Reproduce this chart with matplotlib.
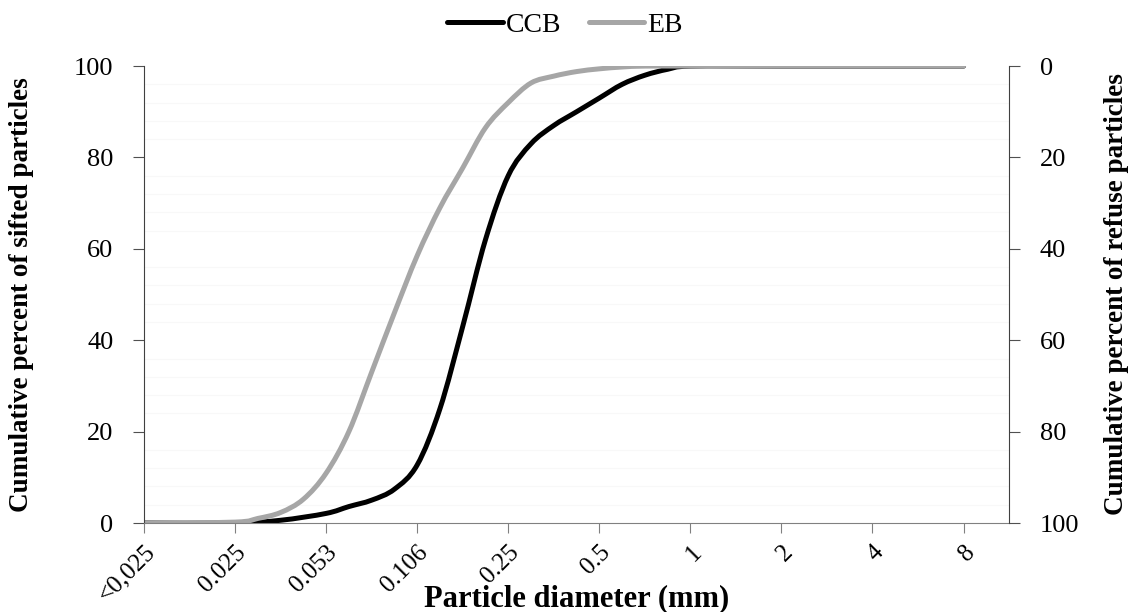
import matplotlib.pyplot as plt
from matplotlib.path import Path
from matplotlib.patches import PathPatch
from matplotlib.lines import Line2D
import numpy as np

kat_labels = ['<0,025', '0.025', '0.053', '0.106', '0.25', '0.5', '1', '2', '4', '8']

ccb_x = [0, 1, 1.5, 2, 2.25, 2.5, 2.75, 3, 3.25, 3.5, 3.75, 4, 4.25, 4.5, 4.75,
         5, 5.25, 5.5, 5.75, 6, 7, 8, 9]
ccb_y = [0, 0, 0.6, 2.1, 3.6, 5.0, 7.4, 12.7, 25, 43, 62, 76, 83, 87, 90,
         93, 96, 98, 99.3, 100, 100, 100, 100]

eb_x = [0, 1, 1.25, 1.5, 1.75, 2, 2.25, 2.5, 2.75, 3, 3.25, 3.5, 3.75, 4, 4.25,
        4.5, 4.75, 5, 5.25, 5.5, 6, 7, 8, 9]
eb_y = [0, 0.2, 1.0, 2.3, 5.2, 10.9, 20, 33, 46, 58.5, 69, 77.7, 86.5, 92, 96.3,
        97.8, 98.8, 99.4, 99.8, 100, 100, 100, 100, 100]


def gluda_likne(ax, xs, ys, **kw):
    # smoothed line like Excel: Catmull-Rom segments as cubic Bezier curves
    p = np.column_stack([xs, ys]).astype(float)
    verts = [p[0]]
    codes = [Path.MOVETO]
    n = len(p)
    for i in range(n - 1):
        p0 = p[max(i - 1, 0)]
        p1 = p[i]
        p2 = p[i + 1]
        p3 = p[min(i + 2, n - 1)]
        verts += [p1 + (p2 - p0) / 6, p2 - (p3 - p1) / 6, p2]
        codes += [Path.CURVE4] * 3
    patch = PathPatch(Path(verts, codes), fill=False, **kw)
    ax.add_patch(patch)
    return patch


plt.rcParams['font.family'] = ['Liberation Serif', 'DejaVu Serif']

fig = plt.figure(figsize=(11.3, 6.12), dpi=100)
ax = fig.add_axes([0.1274, 0.1454, 0.7656, 0.7466])

krasas = {'CCB': 'black', 'EB': '#A6A6A6'}
gluda_likne(ax, ccb_x, ccb_y, edgecolor=krasas['CCB'], linewidth=3.6,
            joinstyle='round', capstyle='round')
gluda_likne(ax, eb_x, eb_y, edgecolor=krasas['EB'], linewidth=3.6,
            joinstyle='round', capstyle='round')

ax.set_xlim(0, 9.5)
ax.set_ylim(0, 100)
ax.set_xticks(range(len(kat_labels)))
ax.set_xticklabels(kat_labels, rotation=45, ha='right', rotation_mode='anchor')
ax.set_yticks(np.arange(0, 101, 20))
ax.set_yticks(np.arange(0, 101, 4), minor=True)
ax.grid(True, which='minor', axis='y', color='#f8f8f8', linewidth=0.8)
ax.set_axisbelow(True)

ax.tick_params(axis='y', labelsize=19, length=8, color='#505050', pad=14)
ax.tick_params(axis='y', which='minor', length=0)
ax.tick_params(axis='x', labelsize=18, length=7, color='#808080', pad=6)

for s in ['top', 'right']:
    ax.spines[s].set_visible(False)
ax.spines['left'].set_color('#404040')
ax.spines['bottom'].set_color('#808080')

ax.set_xlabel('Particle diameter (mm)', fontsize=22, fontweight='bold')
ax.xaxis.set_label_coords(0.5, -(599 - 523) / 457)
ax.xaxis.label.set_va('center')
ax.set_ylabel('Cumulative percent of sifted particles', fontsize=19.5,
              fontweight='bold', va='center')
ax.yaxis.set_label_coords(-(144 - 22) / 865, 0.5)

ax2 = ax.twinx()
ax2.set_ylim(100, 0)
ax2.set_yticks(np.arange(0, 101, 20))
ax2.tick_params(axis='y', labelsize=19, length=8, color='#505050', pad=14)
for s in ['top', 'left', 'bottom']:
    ax2.spines[s].set_visible(False)
ax2.spines['right'].set_color('#404040')
ax2.set_ylabel('Cumulative percent of refuse particles', fontsize=19.5,
               fontweight='bold', rotation=90, va='center')
ax2.yaxis.set_label_coords(1 + (1116 - 1009) / 865, 0.5)

roktur = [Line2D([], [], color=krasas[k], linewidth=3.6, solid_capstyle='round')
          for k in krasas]
fig.legend(roktur, list(krasas), loc='center', bbox_to_anchor=(0.5, 1 - 25 / 612),
           ncol=2, frameon=False, fontsize=20, handlelength=2.0,
           handletextpad=0.1, columnspacing=1.0)

fig.savefig('out.png', dpi=100)
